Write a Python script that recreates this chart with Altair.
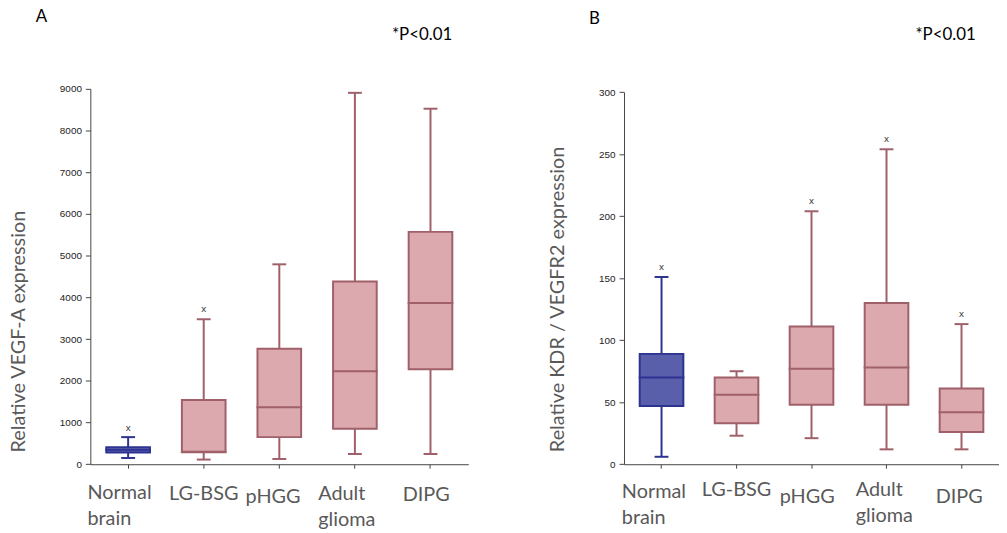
import altair as alt
import pandas as pd

categories = ["Normal brain", "LG-BSG", "pHGG", "Adult glioma", "DIPG"]

# Panel A: Relative VEGF-A expression (box statistics)
a_min = [150, 112, 126, 245, 245]
a_q1 = [280, 285, 650, 850, 2279]
a_median = [345, 300, 1364, 2231, 3864]
a_q3 = [410, 1540, 2769, 4381, 5571]
a_max = [650, 3476, 4793, 8905, 8524]
a_outlier = [860, 3714, None, None, None]

# Panel B: Relative KDR / VEGFR2 expression
b_min = [6, 23, 21, 12, 12]
b_q1 = [47, 33, 48, 48, 26]
b_median = [70, 56, 77, 78, 42]
b_q3 = [89, 70, 111, 130, 61]
b_max = [151, 75, 204, 254, 113]
b_outlier = [159, None, 212, 262, 121]

panel_letters = ["A", "B"]
p_note = "*P<0.01"
y_titles = ["Relative VEGF-A expression", "Relative KDR / VEGFR2 expression"]
a_ticks = [0, 1000, 2000, 3000, 4000, 5000, 6000, 7000, 8000, 9000]
b_ticks = [0, 50, 100, 150, 200, 250, 300]

fill_colors = ["#5a5fab", "#dca9af", "#dca9af", "#dca9af", "#dca9af"]
line_colors = ["#2c3391", "#a0606a", "#a0606a", "#a0606a", "#a0606a"]

GRAY = "#595959"
AXIS = "#444444"
PLOT_H = 378.4


def cond(mapping, default):
    return {
        "condition": [
            {"test": f"datum.value === '{k}'", "value": v} for k, v in mapping.items()
        ],
        "value": default,
    }


def panel(mins, q1s, meds, q3s, maxs, outs, ymax, ticks, ytitle, letter,
          width, range_top, title_x, title_y, letter_xy, note_xy, offsets, paddings):
    df = pd.DataFrame({
        "category": categories, "min": mins, "q1": q1s, "median": meds,
        "q3": q3s, "max": maxs, "outlier": outs,
    })
    xscale = alt.Scale(paddingInner=0.4, paddingOuter=0.2)
    xaxis = alt.Axis(
        title=None, labelAngle=0, labelAlign="left", labelBaseline="top",
        labelFont="Lato", labelFontSize=20, labelColor=GRAY, labelLineHeight=26.5,
        labelExpr="split(datum.label, ' ')", labelOverlap=False, labelLimit=0,
        labelOffset=cond(dict(zip(categories, offsets)), -30),
        labelPadding=cond(dict(zip(categories, paddings)), 15),
        tickSize=4, tickColor=AXIS, tickWidth=1, domainColor=AXIS, domainWidth=1,
    )
    x = alt.X("category:N", sort=categories, scale=xscale, axis=xaxis)
    yscale = alt.Scale(domain=[0, ymax], nice=False, zero=True,
                       range=[PLOT_H, range_top])
    yaxis = alt.Axis(
        values=ticks, format="d", grid=False,
        labelFont="Liberation Sans", labelFontSize=10, labelColor="#222222",
        labelPadding=4, tickSize=5, tickColor=AXIS, tickWidth=1,
        domainColor=AXIS, domainWidth=1,
        title=ytitle, titleFont="Lato", titleFontSize=20, titleColor=GRAY,
        titleFontWeight="normal", titleAngle=270, titleAlign="left",
        titleBaseline="top", titleX=title_x, titleY=title_y,
    )

    def Y(field):
        return alt.Y(f"{field}:Q", scale=yscale, axis=yaxis)

    dark = alt.Color("category:N", sort=categories,
                     scale=alt.Scale(domain=categories, range=line_colors), legend=None)
    stroke = alt.Stroke("category:N", sort=categories,
                        scale=alt.Scale(domain=categories, range=line_colors), legend=None)
    fill = alt.Fill("category:N", sort=categories,
                    scale=alt.Scale(domain=categories, range=fill_colors), legend=None)

    base = alt.Chart(df)
    whisker = base.mark_rule(strokeWidth=2).encode(x=x, y=Y("min"), y2="max:Q", color=dark)
    cap_lo = base.mark_tick(size=14, thickness=2, opacity=1).encode(x=x, y=Y("min"), color=dark)
    cap_hi = base.mark_tick(size=14, thickness=2, opacity=1).encode(x=x, y=Y("max"), color=dark)
    box = base.mark_bar(size=44, strokeWidth=2, opacity=1).encode(
        x=x, y=Y("q1"), y2="q3:Q", fill=fill, stroke=stroke)
    median = base.mark_tick(size=46, thickness=2, opacity=1).encode(
        x=x, y=Y("median"), color=dark)
    outl = base.transform_filter("isValid(datum.outlier)").mark_text(
        text="x", font="Liberation Sans", fontSize=10, color="#333333",
        baseline="middle", align="center").encode(x=x, y=Y("outlier"))

    lab = alt.Chart(pd.DataFrame({"t": [letter]})).mark_text(
        align="left", baseline="top", font="Lato", fontSize=17, color="#000000"
    ).encode(text="t:N", x=alt.value(letter_xy[0]), y=alt.value(letter_xy[1]))
    note = alt.Chart(pd.DataFrame({"t": [p_note]})).mark_text(
        align="left", baseline="top", font="Lato", fontSize=17, color="#000000"
    ).encode(text="t:N", x=alt.value(note_xy[0]), y=alt.value(note_xy[1]))

    return alt.layer(whisker, cap_lo, cap_hi, box, median, outl, lab, note).properties(
        width=width, height=PLOT_H)


chart_a = panel(a_min, a_q1, a_median, a_q3, a_max, a_outlier, 9000, a_ticks,
                y_titles[0], panel_letters[0], 381, 0, -82, 366,
                (-55, -80.5), (304, -62.5),
                [-41, -35, -34, -37, -28], [14.2, 15.2, 18.6, 15.2, 16.2])
chart_b = panel(b_min, b_q1, b_median, b_q3, b_max, b_outlier, 300, b_ticks,
                y_titles[1], panel_letters[1], 378, 3.4, -77, 365.7,
                (-35.3, -78.8), (293.7, -62.5),
                [-40, -35, -32, -31, -26], [13.6, 11.9, 18.6, 11.2, 18.6])

chart = alt.hconcat(chart_a, chart_b, spacing=79).properties(
    padding={"left": 0, "top": -2.6, "right": 0, "bottom": 0},
    background="white",
).configure_view(stroke=None)

chart.save("out.html", embed_options={"renderer": "svg", "actions": False})
